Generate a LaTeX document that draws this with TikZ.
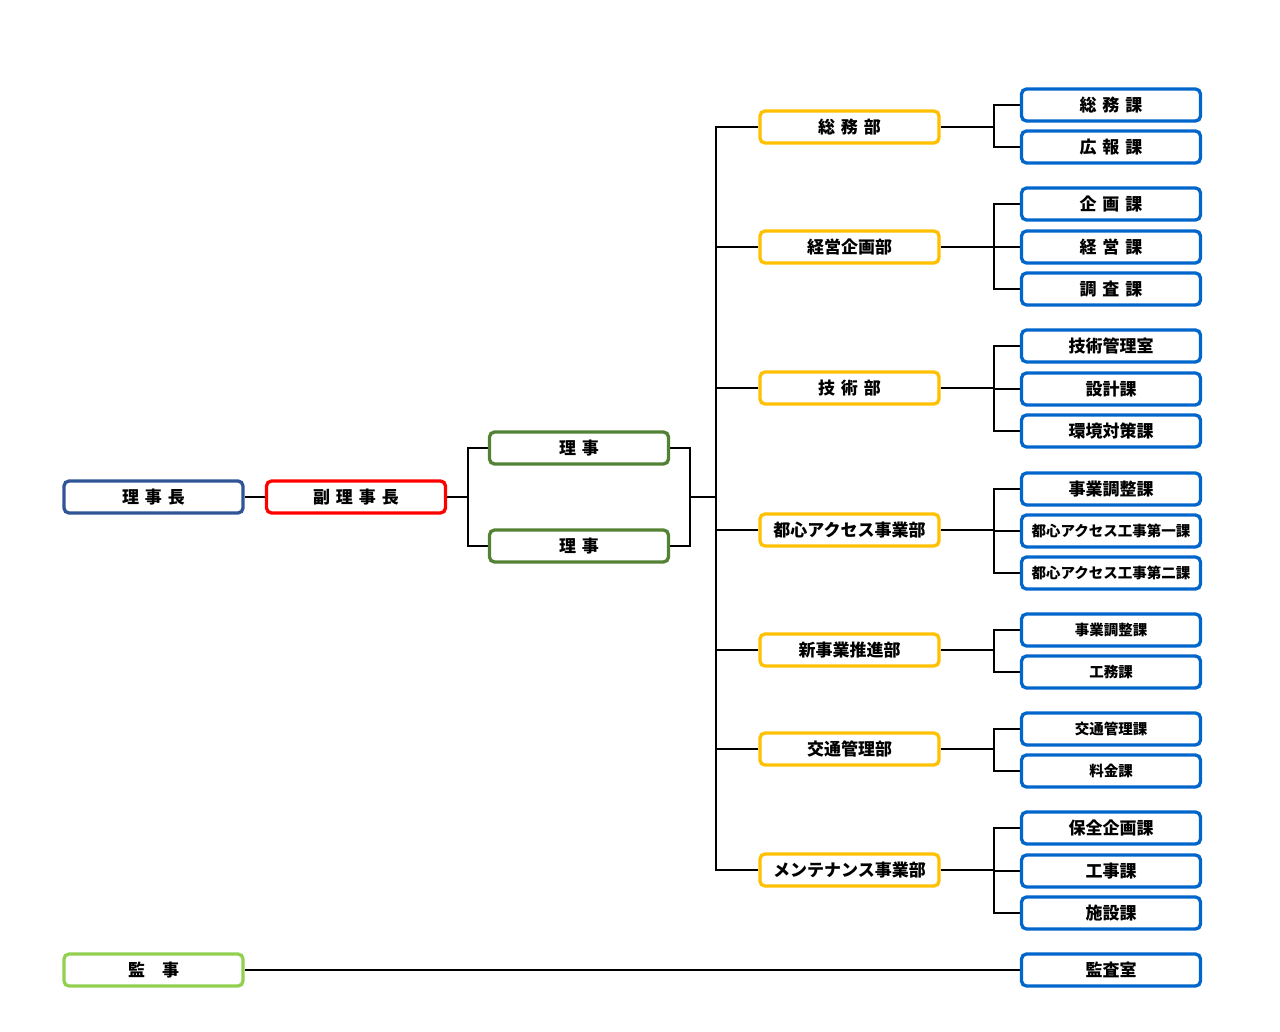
\documentclass[tikz,border=0pt]{standalone}
\usepackage{fontspec}
\newfontfamily\jp{Noto Sans CJK JP}
\usepackage{xcolor}
\definecolor{chairblue}{HTML}{2F5597}
\definecolor{vicered}{HTML}{FF0000}
\definecolor{rijigreen}{HTML}{548235}
\definecolor{kanjigreen}{HTML}{92D050}
\definecolor{buyellow}{HTML}{FFC000}
\definecolor{kablue}{HTML}{0066CC}
\pgfdeclarelayer{bg}
\pgfsetlayers{bg,main}
\newcommand{\gap}{\hspace{6pt}}

\begin{document}
\begin{tikzpicture}[x=1pt,y=-1pt,
  box/.style={draw,rounded corners=5pt,line width=3.3pt,fill=white,
    minimum width=179pt,minimum height=32pt,inner sep=0pt,
    font=\jp\bfseries\fontsize{17}{17}\selectfont},
  small/.style={font=\jp\bfseries\fontsize{14.5}{14.5}\selectfont},
  conn/.style={line width=2.8pt,black}]
\useasboundingbox (0,0) rectangle (1280,1032);

% top of the chart
\node[box,draw=chairblue] (rijicho) at (153.5,497) {理\gap 事\gap 長};
\node[box,draw=vicered] (fuku) at (356,497) {副\gap 理\gap 事\gap 長};
\node[box,draw=rijigreen] (riji1) at (579,448) {理\gap 事};
\node[box,draw=rijigreen] (riji2) at (579,546) {理\gap 事};
\node[box,draw=kanjigreen] (kanji) at (153.5,970) {監　事};

% departments
\node[box,draw=buyellow] (bu1) at (849.5,127) {総\gap 務\gap 部};
\node[box,draw=buyellow] (bu2) at (849.5,247) {経営企画部};
\node[box,draw=buyellow] (bu3) at (849.5,388) {技\gap 術\gap 部};
\node[box,draw=buyellow] (bu4) at (849.5,530) {都心アクセス事業部};
\node[box,draw=buyellow] (bu5) at (849.5,650) {新事業推進部};
\node[box,draw=buyellow] (bu6) at (849.5,749) {交通管理部};
\node[box,draw=buyellow] (bu7) at (849.5,870) {メンテナンス事業部};

% sections
\node[box,draw=kablue] (ka11) at (1111,105) {総\gap 務\gap 課};
\node[box,draw=kablue] (ka12) at (1111,147) {広\gap 報\gap 課};
\node[box,draw=kablue] (ka21) at (1111,204) {企\gap 画\gap 課};
\node[box,draw=kablue] (ka22) at (1111,247) {経\gap 営\gap 課};
\node[box,draw=kablue] (ka23) at (1111,289) {調\gap 査\gap 課};
\node[box,draw=kablue] (ka31) at (1111,346) {技術管理室};
\node[box,draw=kablue] (ka32) at (1111,389) {設計課};
\node[box,draw=kablue] (ka33) at (1111,431) {環境対策課};
\node[box,draw=kablue] (ka41) at (1111,489) {事業調整課};
\node[box,draw=kablue,small] (ka42) at (1111,531) {都心アクセス工事第一課};
\node[box,draw=kablue,small] (ka43) at (1111,573) {都心アクセス工事第二課};
\node[box,draw=kablue,small] (ka51) at (1111,630) {事業調整課};
\node[box,draw=kablue,small] (ka52) at (1111,672) {工務課};
\node[box,draw=kablue,small] (ka61) at (1111,729) {交通管理課};
\node[box,draw=kablue,small] (ka62) at (1111,771) {料金課};
\node[box,draw=kablue] (ka71) at (1111,828) {保全企画課};
\node[box,draw=kablue] (ka72) at (1111,871) {工事課};
\node[box,draw=kablue] (ka73) at (1111,913) {施設課};
\node[box,draw=kablue] (kansa) at (1111,970) {監査室};

\coordinate (fbus) at (468,0);
\coordinate (rj) at (690,497);
\coordinate (bbus) at (716,0);
\coordinate (kbus) at (994,0);

\begin{pgfonlayer}{bg}
\draw[conn] (rijicho.east) -- (fuku.west);
\draw[conn] (fuku.east) -- (fuku.east -| fbus);
\draw[conn] (riji1.west) -| (fbus |- riji2.west) -- (riji2.west);
\draw[conn] (riji1.east) -| (rj |- riji2.east) -- (riji2.east);
\draw[conn] (rj) -- (rj -| bbus);
\draw[conn] (bu1.west) -| (bbus |- bu7.west) -- (bu7.west);
\foreach \b in {bu2,bu3,bu4,bu5,bu6}
  \draw[conn] (\b.west) -- (\b.west -| bbus);
\foreach \b/\f/\l in {bu1/ka11/ka12,bu2/ka21/ka23,bu3/ka31/ka33,
    bu4/ka41/ka43,bu5/ka51/ka52,bu6/ka61/ka62,bu7/ka71/ka73} {
  \draw[conn] (\b.east) -- (\b.east -| kbus);
  \draw[conn] (\f.west) -| (kbus |- \l.west) -- (\l.west);
}
\foreach \k in {ka22,ka32,ka42,ka72}
  \draw[conn] (\k.west) -- (\k.west -| kbus);
\draw[conn] (kanji.east) -- (kansa.west);
\end{pgfonlayer}
\end{tikzpicture}
\end{document}
